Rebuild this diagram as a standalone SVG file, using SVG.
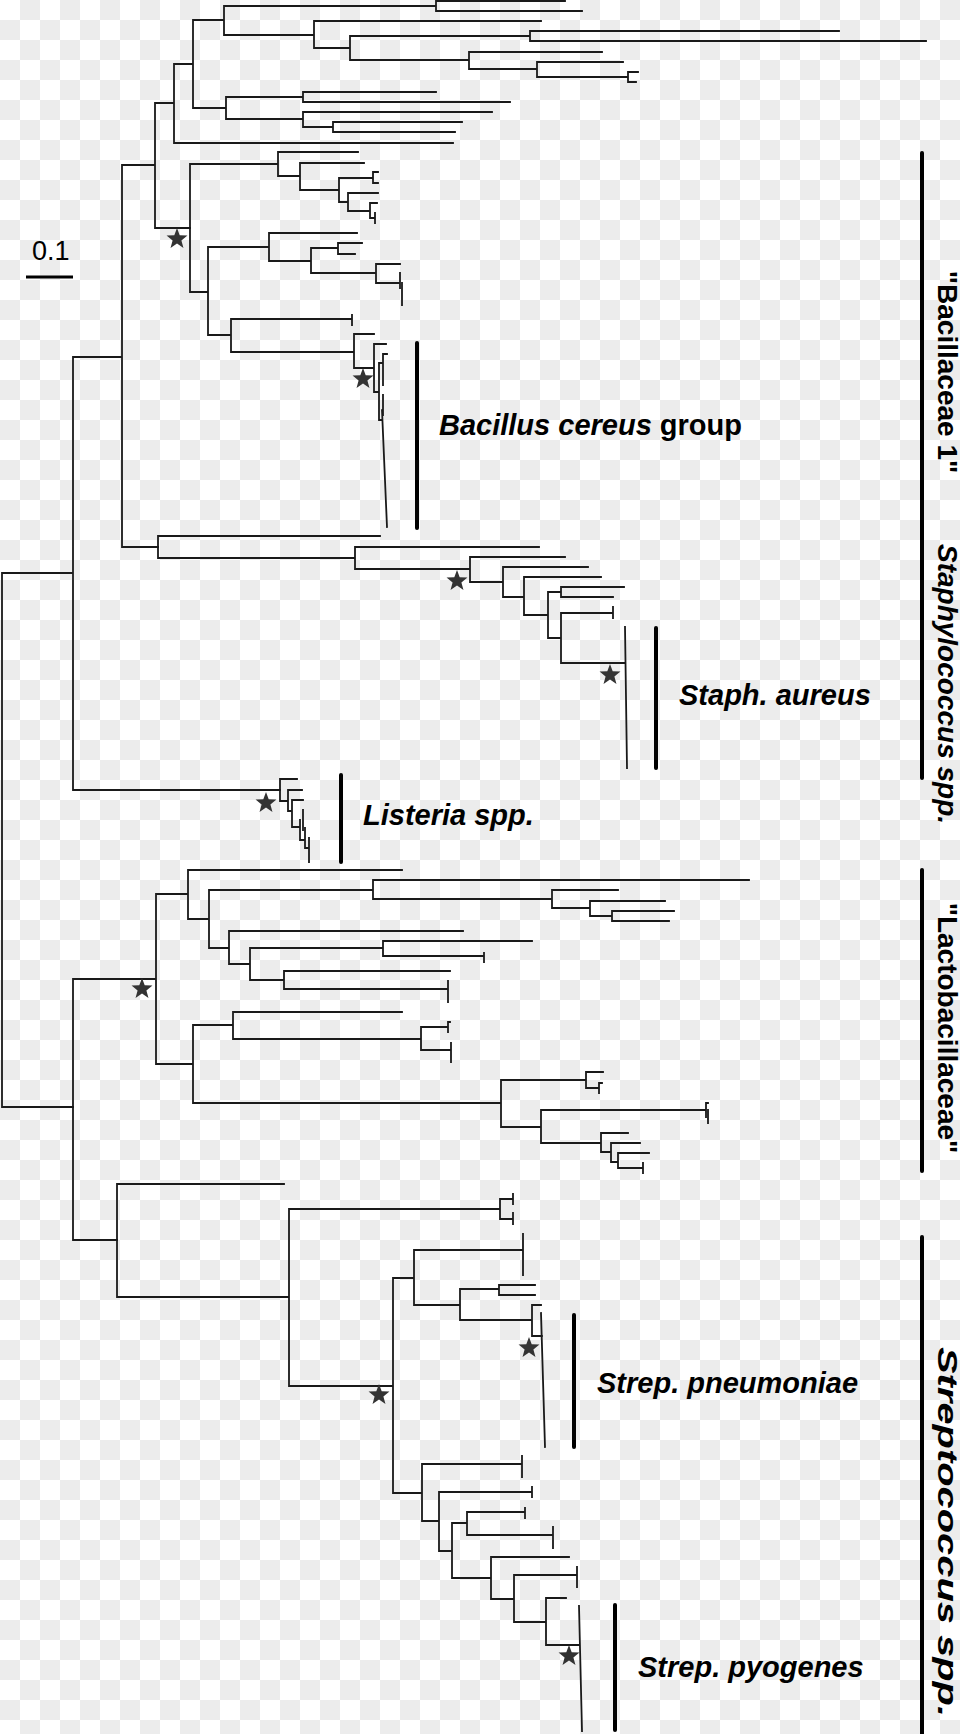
<svg xmlns="http://www.w3.org/2000/svg" width="960" height="1734" viewBox="0 0 960 1734">
<defs>
<pattern id="chk" width="40" height="40" patternUnits="userSpaceOnUse">
<rect width="40" height="40" fill="#ffffff"/>
<rect x="20" y="0" width="20" height="20" fill="#ececec"/>
<rect x="0" y="20" width="20" height="20" fill="#ececec"/>
</pattern>
<path id="star" d="M0,-11 L2.7,-3.7 L10.46,-3.4 L4.4,1.43 L6.47,8.9 L0,4.6 L-6.47,8.9 L-4.4,1.43 L-10.46,-3.4 L-2.7,-3.7 Z"/>
</defs>
<style>
.br{fill:none;stroke:#1a1a1a;stroke-width:1.8;stroke-linecap:square}
.bar{fill:none;stroke:#000;stroke-width:4;stroke-linecap:round}
.st{fill:#333}
.lab{font-family:"Liberation Sans",Arial,sans-serif;font-weight:bold;font-size:29px;fill:#000}
.it{font-style:italic}
.side{font-family:"Liberation Sans",Arial,sans-serif;font-weight:bold;font-size:28px;fill:#000}
.sc{font-family:"Liberation Sans",Arial,sans-serif;font-size:27px;fill:#000}
</style>
<rect width="960" height="1734" fill="url(#chk)"/>
<g id="connectors">
<path class="br" d="M2,573 V1107 M2,573 H73 M2,1107 H73
M73,357 V790 M73,357 H122 M73,790 H280
M122,165 V547 M122,165 H155 M122,547 H158
M155,103 V228 M155,103 H174 M155,228 H190
M174,64 V143 M174,64 H193 M174,143 H453
M193,20 V108 M193,20 H224 M193,108 H226
M224,6 V35 M224,6 H436 M224,35 H314
M436,1 V11 M436,1 H565 M436,11 H582
M314,21 V48 M314,21 H541 M314,48 H350
M350,36 V60 M350,36 H530 M350,60 H469
M530,31 V41 M530,31 H839 M530,41 H926
M469,52 V69 M469,52 H602 M469,69 H537
M537,62 V77 M537,62 H623 M537,77 H628
M628,72 V82 M628,72 H638 M628,82 H636
M226,97 V119 M226,97 H303 M226,119 H303
M303,92 V102 M303,92 H436 M303,102 H510
M303,112 V127 M303,112 H492 M303,127 H333
M333,122 V132 M333,122 H462 M333,132 H455"/>
<path class="br" d="M190,164 V292 M190,164 H278 M190,292 H208
M278,152 V176 M278,152 H358 M278,176 H300
M300,163 V190 M300,163 H364 M300,190 H339
M339,178 V202 M339,178 H373 M373,172 V183 M373,172 H378 M373,183 H378 M339,202 H348
M348,193 V211 M348,193 H378 M348,211 H370
M370,203 V218 M370,203 H377 M370,218 H375 M375,213 V223
M208,247 V335 M208,247 H269 M208,335 H231
M269,233 V261 M269,233 H357 M269,261 H311
M311,248 V273 M311,248 H338 M311,273 H376
M338,243 V254 M338,243 H362 M338,254 H355
M376,264 V283 M376,264 H400 M376,283 H400 M400,273 V288 M402,283 V305
M231,319 V352 M231,319 H352 M352,315 V325 M231,352 H354
M354,334 V368 M354,334 H374 M354,368 H374
M374,344 V392 M374,344 H386 M374,392 H379
M379,363 V420 M379,363 H383 M383,354 V385 M383,354 H387 M379,420 H382
M383,395 V415 M382,410 L387,527"/>
<path class="br" d="M158,536 V558 M158,536 H380 M158,558 H355
M355,547 V569 M355,547 H539 M355,569 H470
M470,557 V582 M470,557 H565 M470,582 H503
M503,567 V597 M503,567 H588 M503,597 H524
M524,577 V615 M524,577 H601 M524,615 H548
M548,592 V638 M548,592 H561 M548,638 H561
M561,587 V597 M561,587 H624 M561,597 H613
M561,613 V663 M561,613 H613 M613,607 V618 M561,663 H625
M625,627 L627,768"/>
<path class="br" d="M280,779 V801 M280,779 H297 M280,801 H288
M288,790 V811 M288,790 H302 M288,811 H292
M292,800 V827 M292,800 H303 M292,827 H300
M303,810 V830 M300,820 V840 M300,840 H305
M305,828 V848 M305,848 H309 M309,838 V862"/>
<path class="br" d="M73,979 V1240 M73,979 H156 M73,1240 H117
M156,894 V1064 M156,894 H188 M156,1064 H193
M188,870 V919 M188,870 H402 M188,919 H209
M209,890 V948 M209,890 H373 M209,948 H229
M373,880 V899 M373,880 H749 M373,899 H552
M552,890 V908 M552,890 H618 M552,908 H590
M590,901 V916 M590,901 H665 M590,916 H612
M612,911 V921 M612,911 H674 M612,921 H669
M229,931 V964 M229,931 H463 M229,964 H250
M250,948 V980 M250,948 H383 M250,980 H284
M383,941 V956 M383,941 H532 M383,956 H484 M484,953 V962
M284,971 V989 M284,971 H450 M284,989 H448 M448,981 V1002
M193,1025 V1103 M193,1025 H233 M193,1103 H501
M233,1012 V1039 M233,1012 H402 M233,1039 H421
M421,1027 V1050 M421,1027 H448 M448,1022 V1032 M448,1022 H450 M421,1050 H451 M451,1043 V1062
M501,1080 V1127 M501,1080 H586 M501,1127 H541
M586,1072 V1088 M586,1072 H603 M586,1088 H599 M599,1083 V1093 M599,1083 H602
M541,1110 V1143 M541,1110 H706 M706,1103 V1117 M706,1103 H708 M708,1110 V1123 M541,1143 H601
M601,1133 V1152 M601,1133 H628 M601,1152 H611
M611,1143 V1162 M611,1143 H640 M611,1162 H618
M618,1153 V1168 M618,1153 H649 M618,1168 H643 M643,1163 V1173"/>
<path class="br" d="M117,1184 V1297 M117,1184 H284 M117,1297 H289
M289,1209 V1386 M289,1209 H500 M289,1386 H393
M500,1199 V1219 M500,1199 H513 M513,1194 V1204 M500,1219 H513 M513,1213 V1224
M393,1278 V1493 M393,1278 H414 M393,1493 H422
M414,1250 V1305 M414,1250 H523 M523,1234 V1275 M414,1305 H460
M460,1289 V1320 M460,1289 H499 M460,1320 H532
M499,1285 V1295 M499,1285 H535 M499,1295 H535
M532,1305 V1336 M532,1305 H541 M532,1336 H542
M541,1313 L545,1447
M422,1464 V1521 M422,1464 H522 M522,1456 V1477 M422,1521 H439
M439,1492 V1551 M439,1492 H532 M532,1487 V1497 M439,1551 H452
M452,1523 V1578 M452,1523 H467 M452,1578 H491
M467,1512 V1535 M467,1512 H525 M525,1508 V1518 M467,1535 H553 M553,1527 V1548
M491,1557 V1599 M491,1557 H569 M491,1599 H514
M514,1575 V1622 M514,1575 H577 M577,1567 V1587 M514,1622 H546
M546,1598 V1645 M546,1598 H566 M546,1645 H579
M579,1606 L582,1731"/>
</g>
<g id="stars">
<use href="#star" class="st" x="177" y="239"/>
<use href="#star" class="st" x="363" y="379"/>
<use href="#star" class="st" x="457" y="581"/>
<use href="#star" class="st" x="610" y="675"/>
<use href="#star" class="st" x="266" y="803"/>
<use href="#star" class="st" x="142" y="989"/>
<use href="#star" class="st" x="379" y="1395"/>
<use href="#star" class="st" x="529" y="1348"/>
<use href="#star" class="st" x="569" y="1656"/>
</g>
<g id="scale">
<text class="sc" x="32" y="260">0.1</text>
<path d="M26,277 H73" stroke="#000" stroke-width="3"/>
</g>
<g id="label-cereus">
<path class="bar" d="M417,343 V528"/>
<text class="lab" x="439" y="435"><tspan class="it">Bacillus cereus</tspan> group</text>
</g>
<g id="label-aureus">
<path class="bar" d="M656,628 V768"/>
<text class="lab it" x="679" y="705">Staph. aureus</text>
</g>
<g id="label-listeria">
<path class="bar" d="M341,775 V862"/>
<text class="lab it" x="363" y="825">Listeria spp.</text>
</g>
<g id="label-pneumoniae">
<path class="bar" d="M574,1315 V1447"/>
<text class="lab it" x="597" y="1393">Strep. pneumoniae</text>
</g>
<g id="label-pyogenes">
<path class="bar" d="M615,1605 V1730"/>
<text class="lab it" x="638" y="1677">Strep. pyogenes</text>
</g>
<g id="label-bacillaceae">
<path class="bar" d="M922,153 V593"/>
<text class="side" text-anchor="middle" transform="translate(938,372) rotate(90)">"Bacillaceae 1"</text>
</g>
<g id="label-staphylococcus">
<path class="bar" d="M922,555 V778"/>
<text class="side it" text-anchor="middle" font-size="29" transform="translate(938,684) rotate(90)">Staphylococcus spp.</text>
</g>
<g id="label-lactobacillaceae">
<path class="bar" d="M922,870 V1171"/>
<text class="side" text-anchor="middle" transform="translate(938,1028) rotate(90)">"Lactobacillaceae"</text>
</g>
<g id="label-streptococcus">
<path class="bar" d="M922,1237 V1734"/>
<text class="side it" text-anchor="middle" font-size="28" textLength="370" lengthAdjust="spacingAndGlyphs" transform="translate(938,1532) rotate(90)">Streptococcus spp.</text>
</g>
</svg>
